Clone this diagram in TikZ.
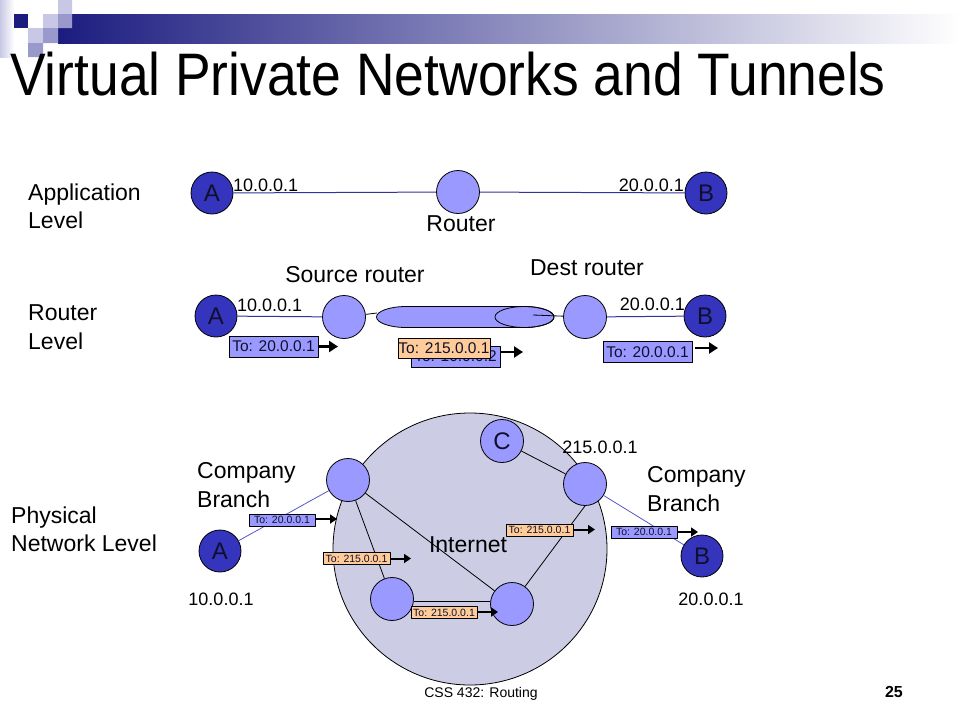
\documentclass[tikz,border=0pt]{standalone}
\usepackage{fontspec}
\setmainfont{Liberation Sans}
\usetikzlibrary{arrows.meta}
\definecolor{hostblue}{HTML}{3434BC}
\definecolor{rtrblue}{HTML}{9999FF}
\definecolor{cloudgray}{HTML}{CCCCE4}
\definecolor{pktorange}{HTML}{FFCC99}
\definecolor{linkblue}{HTML}{333399}
\definecolor{branchblue}{HTML}{5555CC}
\definecolor{navybar}{HTML}{1C1C80}
\definecolor{sqlight}{HTML}{C8C8E6}
\definecolor{sqmid}{HTML}{9999CC}
\definecolor{inktext}{HTML}{10102E}
\newcommand\fsz[2]{\fontsize{#1}{#2}\selectfont}
\begin{document}
\begin{tikzpicture}[x=1pt,y=-1pt,line join=round,
  host/.style={circle,draw=black,line width=.8pt,fill=hostblue,minimum size=42pt,inner sep=0pt,text=inktext,font=\fsz{24}{24}},
  rtr/.style={circle,draw=black,line width=.8pt,fill=rtrblue,minimum size=43pt,inner sep=0pt},
  lvl/.style={anchor=north west,align=left,inner sep=0pt,font=\fsz{23}{28.5}},
  ip/.style={inner sep=0pt,font=\fsz{18}{18}},
  pkt/.style={draw=black,line width=.8pt,fill=rtrblue,text=inktext,inner sep=0pt,minimum width=89pt,minimum height=21pt,font=\fsz{15.5}{15.5}},
  spkt/.style={draw=black,line width=.6pt,fill=rtrblue,text=inktext,inner sep=0pt,minimum width=66pt,minimum height=12pt,font=\fsz{10.5}{10.5}},
  wire/.style={linkblue,line width=1pt},
  link/.style={black,line width=.8pt},
  fwd/.style={line width=2.4pt,-{Triangle[length=9pt,width=11pt]}},
  sfwd/.style={line width=2pt,-{Triangle[length=7pt,width=9pt]}}]
\useasboundingbox (0,0) rectangle (960,720);
% banner
\shade[left color=sqlight,right color=white] (0,0) rectangle (14,57);
\shade[left color=navybar,right color=white] (58,14) rectangle (960,43);
\fill[navybar] (14,14) rectangle (28,28);
\fill[sqlight] (58,0) rectangle (72,14) (43,14) rectangle (58,28) (28,28) rectangle (43,43);
\fill[sqmid] (58,14) rectangle (72,28) (43,28) rectangle (58,43) (28,43) rectangle (43,57);
\node[anchor=base west,inner sep=0pt,font=\fsz{60}{60},xscale=.89] (title) at (10,95) {Virtual Private Networks and Tunnels};

% application level
\node[lvl] (applbl) at (28,183.5) {Application\\Level};
\node[host] (Aa) at (212,193) {A};
\node[rtr] (Ra) at (458,192) {};
\node[host] (Ba) at (706,193) {B};
\draw[wire] (Aa) -- (Ra) -- (Ba);
\node[ip,anchor=base west] (ipAa) at (233,191) {10.0.0.1};
\node[ip,anchor=base east] (ipBa) at (684,191) {20.0.0.1};
\node[anchor=base,inner sep=0pt,font=\fsz{23}{23}] (rlbl) at (461,231) {Router};

% router level
\node[lvl] (rtrlbl) at (28,304.5) {Router\\Level};
\node[anchor=base,inner sep=0pt,font=\fsz{23}{23}] (srclbl) at (355,282) {Source router};
\node[anchor=base,inner sep=0pt,font=\fsz{23}{23}] (dstlbl) at (587,275) {Dest router};
\coordinate (tunL) at (377,313);
\coordinate (tunR) at (533,315);
\draw[link,fill=rtrblue] (406,306.5) -- (524.5,306.5)
  arc[start angle=-90,end angle=90,x radius=29.5,y radius=10.5] -- (406,327.5)
  arc[start angle=90,end angle=270,x radius=29.5,y radius=10.5] -- cycle;
\draw[link] (524.5,317) ellipse[x radius=29.5,y radius=10.5];
\node[host] (Ar) at (216,316) {A};
\node[rtr] (Src) at (344,317) {};
\node[rtr] (Dst) at (585,317) {};
\node[host] (Br) at (705,316) {B};
\draw[wire] (Ar) -- (Src) (Dst) -- (Br);
\draw[link] (Src) -- (tunL) (tunR) -- (Dst);
\node[ip,anchor=base west] (ipAr) at (237,311) {10.0.0.1};
\node[ip,anchor=base east] (ipBr) at (685,310) {20.0.0.1};
\node[pkt] (p1) at (273.5,346.5) {To: 20.0.0.1};
\node[pkt] (tb) at (455.5,356.5) {To: 10.0.0.2};
\node[pkt,fill=pktorange,minimum width=92pt,minimum height=20pt] (tt) at (444,348) {To: 215.0.0.1};
\node[pkt] (p3) at (647.5,352) {To: 20.0.0.1};
\coordinate (p1t) at (338,346.5);
\coordinate (tbt) at (523,352);
\coordinate (p3t) at (718,348);
\draw[fwd] (p1.east) -- (p1t);
\draw[fwd] (tbt -| tb.east) -- (tbt);
\draw[fwd,shorten <=3pt] (p3t -| p3.east) -- (p3t);

% physical level
\node[lvl] (phylbl) at (11,506.5) {Physical\\Network Level};
\node[lvl] (brL) at (197,462.5) {Company\\Branch};
\node[lvl] (brR) at (647,466.5) {Company\\Branch};
\draw[link,fill=cloudgray] (470,549) ellipse[x radius=137,y radius=136];
\node[anchor=base,inner sep=0pt,font=\fsz{23}{23}] (net) at (468,552) {Internet};
\node[host] (Ap) at (220,551) {A};
\node[rtr] (R1) at (348,480) {};
\node[rtr] (R2) at (392,599) {};
\node[rtr] (R3) at (585,484) {};
\node[rtr] (R4) at (512,604) {};
\node[rtr,font=\fsz{24}{24},text=inktext] (C) at (502,441) {C};
\node[host] (Bp) at (702,556) {B};
\draw[branchblue,line width=.8pt] (Ap) -- (R1) (R3) -- (Bp);
\draw[link] (R1) -- (R2) (R1) -- (R4) (C) -- (R3) (R4) -- (R3.south);
\draw[link] (R2.east |- 0,601) -- (R4.west |- 0,601);
\node[ip,anchor=base] (ipAp) at (221,605) {10.0.0.1};
\node[ip,anchor=base] (ipBp) at (711,605) {20.0.0.1};
\node[ip,anchor=base] (ipR3) at (600,453) {215.0.0.1};
\node[spkt] (s1) at (282,520) {To: 20.0.0.1};
\node[spkt,fill=pktorange,minimum width=67pt] (s2) at (356.5,558.5) {To: 215.0.0.1};
\node[spkt,fill=pktorange] (s3) at (444,612.5) {To: 215.0.0.1};
\node[spkt,fill=pktorange,minimum width=67pt] (s4) at (539.5,530) {To: 215.0.0.1};
\node[spkt] (s5) at (644,532) {To: 20.0.0.1};
\coordinate (s1t) at (337,519);
\coordinate (s2t) at (411,558.5);
\coordinate (s3t) at (498,612);
\coordinate (s4t) at (595,529.5);
\coordinate (s5t) at (698,532);
\draw[sfwd] (s1t -| s1.east) -- (s1t);
\draw[sfwd] (s2t -| s2.east) -- (s2t);
\draw[sfwd] (s3t -| s3.east) -- (s3t);
\draw[sfwd] (s4t -| s4.east) -- (s4t);
\draw[sfwd] (s5t -| s5.east) -- (s5t);

% footer
\node[anchor=base,inner sep=0pt,font=\fsz{14}{14}] (foot) at (481,697) {CSS 432: Routing};
\node[anchor=base east,inner sep=0pt,font=\bfseries\fsz{16}{16}] (pnum) at (903,697) {25};
\end{tikzpicture}
\end{document}
